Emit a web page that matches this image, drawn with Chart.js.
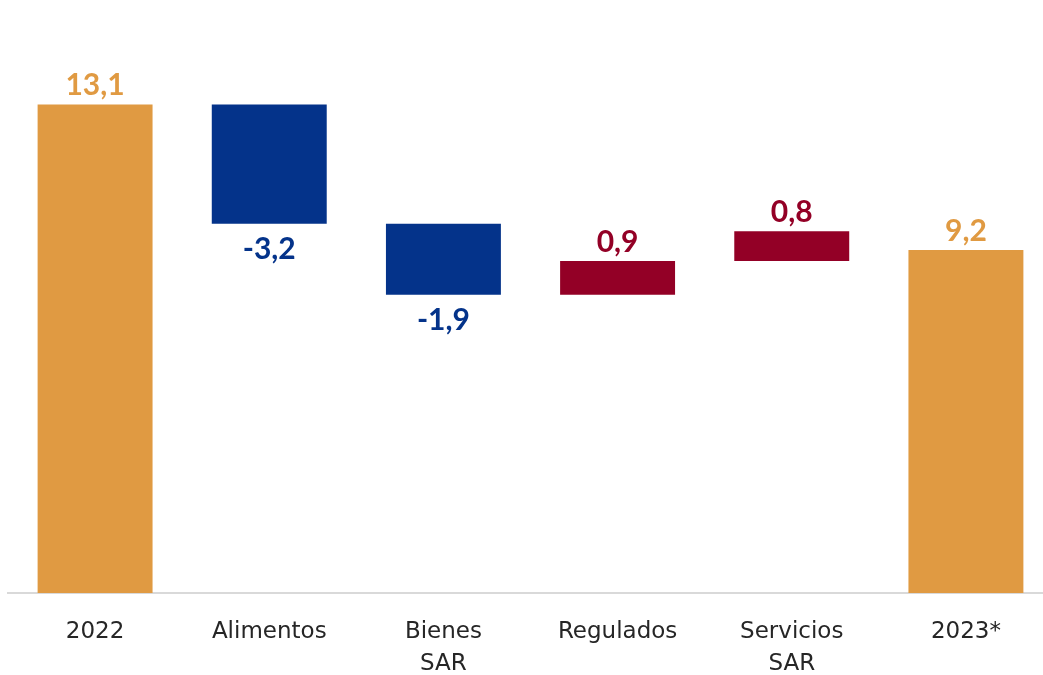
<!DOCTYPE html>
<html>
<head>
<meta charset="utf-8">
<script src="https://cdn.jsdelivr.net/npm/chart.js@4"></script>
<style>
  html, body { margin: 0; padding: 0; background: #fff; overflow: hidden; }
  .wrap { width: 1053px; height: 675px; position: relative; }
</style>
</head>
<body>
<div class="wrap"><canvas id="waterfallChart"></canvas></div>
<script>
const categories = ['2022', 'Alimentos', ['Bienes', 'SAR'], 'Regulados', ['Servicios', 'SAR'], '2023*'];
const values = [13.1, -3.2, -1.9, 0.9, 0.8, 9.2];
// 'total' bars start at zero, 'delta' bars float on the running level
const kinds = ['total', 'delta', 'delta', 'delta', 'delta', 'total'];

const ORANGE = '#e09a42';
const BLUE = '#04338a';
const RED = '#930026';

let level = 0;
const ranges = values.map((v, i) => {
    if (kinds[i] === 'total') {
        level = v;
        return [0, v];
    }
    const start = level;
    level = level + v;
    return [Math.min(start, level), Math.max(start, level)];
});
const colors = values.map((v, i) => kinds[i] === 'total' ? ORANGE : (v < 0 ? BLUE : RED));

const labelPlugin = {
    id: 'valueLabels',
    afterDatasetsDraw(chart) {
        const ctx = chart.ctx;
        const meta = chart.getDatasetMeta(0);
        ctx.save();
        ctx.font = 'bold 30px Lato';
        ctx.textAlign = 'center';
        meta.data.forEach((bar, i) => {
            const v = values[i];
            const txt = v.toFixed(1).replace('.', ',');
            ctx.fillStyle = colors[i];
            const top = Math.min(bar.y, bar.base);
            const bottom = Math.max(bar.y, bar.base);
            if (v < 0) {
                ctx.textBaseline = 'top';
                ctx.fillText(txt, bar.x, bottom + 11);
            } else {
                ctx.textBaseline = 'bottom';
                ctx.fillText(txt, bar.x, top - 4);
            }
        });
        ctx.restore();
    }
};

const waterfallCtx = document.getElementById('waterfallChart').getContext('2d');
const waterfallChart = new Chart(waterfallCtx, {
    type: 'bar',
    data: {
        labels: categories,
        datasets: [{
            data: ranges,
            backgroundColor: colors,
            borderWidth: 0,
            borderSkipped: false,
            barPercentage: 0.66,
            categoryPercentage: 1
        }]
    },
    options: {
        responsive: true,
        maintainAspectRatio: false,
        animation: false,
        layout: { padding: { left: 8, right: 0, top: 0, bottom: 0 } },
        plugins: {
            legend: { display: false },
            tooltip: { enabled: false }
        },
        scales: {
            x: {
                grid: { display: false, drawTicks: false },
                border: { display: true, color: '#d9d9d9', width: 2 },
                ticks: {
                    color: '#262626',
                    padding: 23,
                    maxRotation: 0,
                    autoSkip: false,
                    font: { family: 'DejaVu Sans', size: 23, lineHeight: 1.38 }
                },
                afterFit(scale) { scale.height = 82; }
            },
            y: {
                display: false,
                min: 0,
                max: 15.9
            }
        }
    },
    plugins: [labelPlugin]
});
</script>
</body>
</html>
